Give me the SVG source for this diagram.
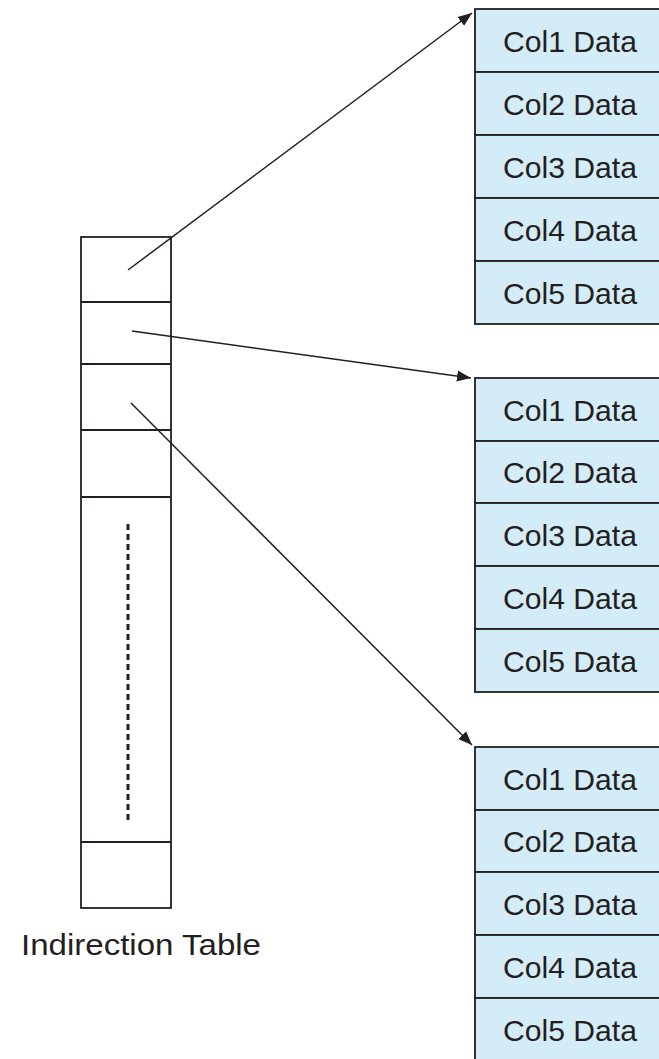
<svg xmlns="http://www.w3.org/2000/svg" width="659" height="1059" viewBox="0 0 659 1059">
<style>
.cell{fill:#d3ecf8;stroke:#231f20;stroke-width:1.8}
.tbl{fill:#fff;stroke:#231f20;stroke-width:1.8}
.sep{stroke:#231f20;stroke-width:1.8}
.lbl{font-family:"Liberation Sans",Arial,sans-serif;font-size:29px;fill:#231f20;text-anchor:middle}
.conn{stroke:#231f20;stroke-width:1.5;fill:none;marker-end:url(#ah)}
</style>
<defs>
<marker id="ah" viewBox="0 0 10 10" refX="10" refY="5" markerWidth="14" markerHeight="14" markerUnits="userSpaceOnUse" orient="auto">
<path d="M0,1 L10,5 L0,9 Z" fill="#231f20"/>
</marker>
</defs>
<rect width="659" height="1059" fill="#fff"/>
<g id="indirection-table">
<rect class="tbl" x="81" y="237" width="90" height="671"/>
<line class="sep" x1="81" y1="302" x2="171" y2="302"/>
<line class="sep" x1="81" y1="364" x2="171" y2="364"/>
<line class="sep" x1="81" y1="430" x2="171" y2="430"/>
<line class="sep" x1="81" y1="497" x2="171" y2="497"/>
<line class="sep" x1="81" y1="842" x2="171" y2="842"/>
<line x1="128" y1="524" x2="128" y2="820" stroke="#231f20" stroke-width="3" stroke-dasharray="6,4"/>
<text class="lbl" x="141" y="955" textLength="240" lengthAdjust="spacingAndGlyphs">Indirection Table</text>
</g>
<g id="record1">
<rect class="cell" x="475" y="9" width="200" height="63"/>
<rect class="cell" x="475" y="72" width="200" height="63"/>
<rect class="cell" x="475" y="135" width="200" height="63"/>
<rect class="cell" x="475" y="198" width="200" height="63"/>
<rect class="cell" x="475" y="261" width="200" height="63"/>
<text class="lbl" x="570" y="52" textLength="134" lengthAdjust="spacingAndGlyphs">Col1 Data</text>
<text class="lbl" x="570" y="115" textLength="134" lengthAdjust="spacingAndGlyphs">Col2 Data</text>
<text class="lbl" x="570" y="178" textLength="134" lengthAdjust="spacingAndGlyphs">Col3 Data</text>
<text class="lbl" x="570" y="241" textLength="134" lengthAdjust="spacingAndGlyphs">Col4 Data</text>
<text class="lbl" x="570" y="304" textLength="134" lengthAdjust="spacingAndGlyphs">Col5 Data</text>
</g>
<g id="record2">
<rect class="cell" x="475" y="378" width="200" height="63"/>
<rect class="cell" x="475" y="441" width="200" height="62"/>
<rect class="cell" x="475" y="503" width="200" height="63"/>
<rect class="cell" x="475" y="566" width="200" height="63"/>
<rect class="cell" x="475" y="629" width="200" height="63"/>
<text class="lbl" x="570" y="421" textLength="134" lengthAdjust="spacingAndGlyphs">Col1 Data</text>
<text class="lbl" x="570" y="483" textLength="134" lengthAdjust="spacingAndGlyphs">Col2 Data</text>
<text class="lbl" x="570" y="546" textLength="134" lengthAdjust="spacingAndGlyphs">Col3 Data</text>
<text class="lbl" x="570" y="609" textLength="134" lengthAdjust="spacingAndGlyphs">Col4 Data</text>
<text class="lbl" x="570" y="672" textLength="134" lengthAdjust="spacingAndGlyphs">Col5 Data</text>
</g>
<g id="record3">
<rect class="cell" x="475" y="747" width="200" height="63"/>
<rect class="cell" x="475" y="810" width="200" height="62"/>
<rect class="cell" x="475" y="872" width="200" height="63"/>
<rect class="cell" x="475" y="935" width="200" height="63"/>
<rect class="cell" x="475" y="998" width="200" height="70"/>
<text class="lbl" x="570" y="790" textLength="134" lengthAdjust="spacingAndGlyphs">Col1 Data</text>
<text class="lbl" x="570" y="852" textLength="134" lengthAdjust="spacingAndGlyphs">Col2 Data</text>
<text class="lbl" x="570" y="915" textLength="134" lengthAdjust="spacingAndGlyphs">Col3 Data</text>
<text class="lbl" x="570" y="978" textLength="134" lengthAdjust="spacingAndGlyphs">Col4 Data</text>
<text class="lbl" x="570" y="1041" textLength="134" lengthAdjust="spacingAndGlyphs">Col5 Data</text>
</g>
<g id="connectors">
<line class="conn" x1="128" y1="270" x2="472" y2="13"/>
<line class="conn" x1="132" y1="331" x2="471" y2="378"/>
<line class="conn" x1="131" y1="403" x2="472" y2="745"/>
</g>
</svg>
